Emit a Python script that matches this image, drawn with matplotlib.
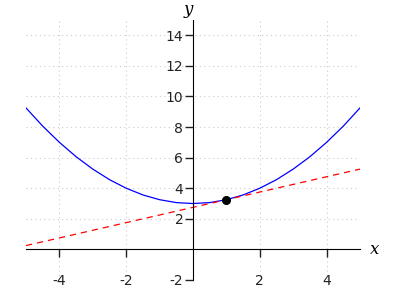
import matplotlib
matplotlib.use("Agg")
import matplotlib.pyplot as plt

plt.rcParams['axes.unicode_minus'] = False

# curve values (x step 0.5)
curve_x = [-5, -4.5, -4, -3.5, -3, -2.5, -2, -1.5, -1, -0.5, 0,
           0.5, 1, 1.5, 2, 2.5, 3, 3.5, 4, 4.5, 5]
curve_y = [9.25, 8.06, 7.0, 6.06, 5.25, 4.56, 4.0, 3.56, 3.25, 3.06, 3.0,
           3.06, 3.25, 3.56, 4.0, 4.56, 5.25, 6.06, 7.0, 8.06, 9.25]
# tangent line end points
line_x = [-5, 5]
line_y = [0.25, 5.25]
# highlighted point
point_x = [1]
point_y = [3.25]

xticks = [-4, -2, 2, 4]
yticks = [-2, 2, 4, 6, 8, 10, 12, 14]

fig = plt.figure(figsize=(4, 3), dpi=100)
ax = fig.add_axes([0.065, 0.0667, 0.835, 0.8667])

ax.plot(curve_x, curve_y, color='blue', lw=0.9)
ax.plot(line_x, line_y, color='red', lw=0.9, ls=(0, (5, 4)))
ax.plot(point_x, point_y, 'o', color='black', ms=5.5, zorder=5)

ax.set_xlim(-5, 5)
ax.set_ylim(-2, 15)

ax.spines['left'].set_position(('data', 0))
ax.spines['bottom'].set_position(('data', 0))
ax.spines['right'].set_visible(False)
ax.spines['top'].set_visible(False)

ax.set_xticks(xticks)
ax.set_yticks(yticks)
ax.tick_params(axis='both', direction='out', length=6, width=1, labelsize=10, colors='#222222')
ax.tick_params(axis='x', pad=12)
ax.tick_params(axis='y', pad=1)
ax.grid(True, color='#cccccc', ls=(0, (1, 3)), lw=0.8)

ax.text(5.3, 0, 'x', fontsize=12, fontstyle='italic', family='DejaVu Serif', va='center', ha='left')
ax.text(-0.15, 15.15, 'y', fontsize=12, fontstyle='italic', family='DejaVu Serif', va='bottom', ha='center')

fig.savefig('out.png', dpi=100)
